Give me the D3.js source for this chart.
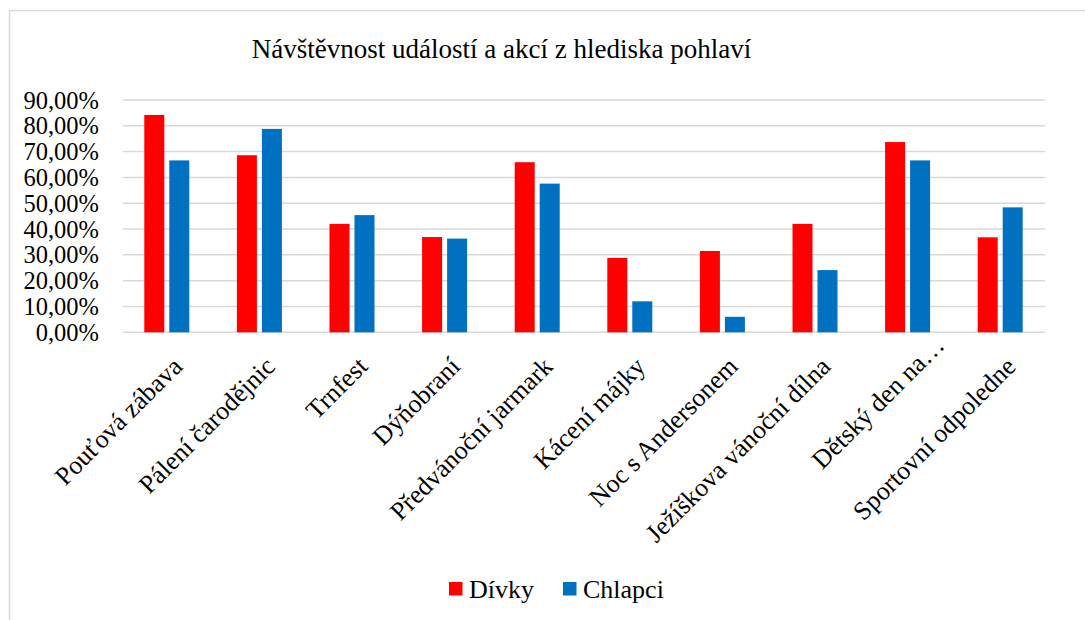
<!DOCTYPE html>
<html>
<head>
<meta charset="utf-8">
<script src="https://cdn.jsdelivr.net/npm/d3@7"></script>
<style>
  body { margin: 0; background: #fff; }
  svg { display: block; }
  text { font-family: "Liberation Serif", "Times New Roman", serif; fill: #000; }
</style>
</head>
<body>
<div id="chart"></div>
<script>
const categories = [
  "Pouťová zábava", "Pálení čarodějnic", "Trnfest", "Dýňobraní", "Předvánoční jarmark",
  "Kácení májky", "Noc s Andersonem", "Ježíškova vánoční dílna", "Dětský den na…", "Sportovní odpoledne"
];
const divky   = [84.2, 68.6, 42.0, 36.9, 65.9, 28.8, 31.5, 42.0, 73.7, 36.8];
const chlapci = [66.6, 78.8, 45.4, 36.3, 57.6, 12.0, 6.0, 24.1, 66.6, 48.4];
const seriesNames = ["Dívky", "Chlapci"];
const seriesColors = ["#FF0000", "#0070C0"];
const yTicks = [0, 10, 20, 30, 40, 50, 60, 70, 80, 90];
const title = "Návštěvnost událostí a akcí z hlediska pohlaví";

const width = 1085, height = 620;
const plot = { left: 120.5, right: 1046.5, top: 100, bottom: 332.3 };

const svg = d3.select("#chart").append("svg")
  .attr("width", width)
  .attr("height", height);

// chart border (only top and left visible in the frame)
svg.append("path")
  .attr("d", `M9.5,${height + 5} V10.5 H${width + 5}`)
  .attr("fill", "none")
  .attr("stroke", "#d9d9d9")
  .attr("stroke-width", 1.5);

svg.append("text")
  .attr("x", 501.5)
  .attr("y", 58)
  .attr("text-anchor", "middle")
  .attr("font-size", "27px")
  .text(title);

const y = d3.scaleLinear().domain([0, 90]).range([plot.bottom, plot.top]);
const x = d3.scaleBand().domain(categories).range([plot.left, plot.right])
  .paddingInner(0.514).paddingOuter(0.257);
const xSub = d3.scaleBand().domain([0, 1]).range([0, x.bandwidth()]).paddingInner(0.2);

// gridlines
svg.append("g")
  .selectAll("line")
  .data(yTicks)
  .enter().append("line")
  .attr("x1", 123)
  .attr("x2", 1045)
  .attr("y1", d => y(d))
  .attr("y2", d => y(d))
  .attr("stroke", "#d9d9d9")
  .attr("stroke-width", 1.5);

// y tick labels
svg.append("g")
  .selectAll("text")
  .data(yTicks)
  .enter().append("text")
  .attr("x", 99)
  .attr("y", d => y(d))
  .attr("dy", "0.35em")
  .attr("text-anchor", "end")
  .attr("font-size", "24.5px")
  .text(d => d3.format(".2f")(d).replace(".", ",") + "%");

// bars
const rows = categories.map((c, i) => ({ cat: c, values: [divky[i], chlapci[i]] }));
const group = svg.append("g")
  .selectAll("g")
  .data(rows)
  .enter().append("g")
  .attr("transform", d => `translate(${x(d.cat)},0)`);

group.selectAll("rect")
  .data(d => d.values.map((v, s) => ({ v, s })))
  .enter().append("rect")
  .attr("x", d => xSub(d.s))
  .attr("width", xSub.bandwidth())
  .attr("y", d => y(d.v))
  .attr("height", d => y(0) - y(d.v))
  .attr("fill", d => seriesColors[d.s]);

// category labels (truncated label sits further along its own direction, as in the original)
svg.append("g")
  .selectAll("text")
  .data(categories)
  .enter().append("text")
  .attr("transform", d => `translate(${x(d) + x.bandwidth() / 2 + 17},368) rotate(-45)`)
  .attr("text-anchor", "end")
  .attr("dx", d => d.endsWith("…") ? 30 : 0)
  .attr("font-size", "26px")
  .text(d => d);

// legend
const legendX = [449, 563];
const legend = svg.append("g")
  .selectAll("g")
  .data(seriesNames)
  .enter().append("g")
  .attr("transform", (d, i) => `translate(${legendX[i]},582)`);

legend.append("rect")
  .attr("width", 13.5)
  .attr("height", 13.5)
  .attr("fill", (d, i) => seriesColors[i]);

legend.append("text")
  .attr("x", 20)
  .attr("y", 16)
  .attr("font-size", "26px")
  .text(d => d);
</script>
</body>
</html>
